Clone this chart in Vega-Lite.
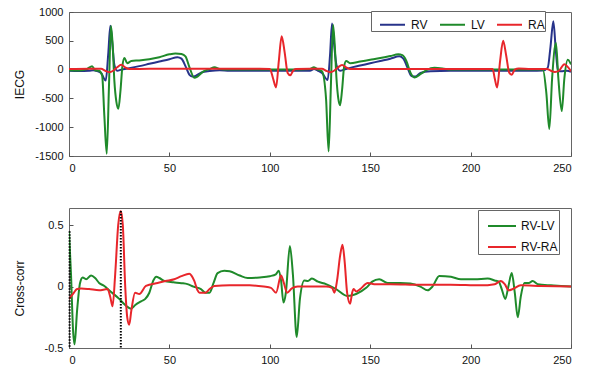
{
"$schema":"https://vega.github.io/schema/vega-lite/v6.json",
"padding":{"left":12,"top":5,"right":5,"bottom":5},
"background":"white",
"config":{
 "font":"Liberation Sans",
 "view":{"stroke":"#666","strokeWidth":1},
 "axis":{"domain":false,"grid":false,"labelFont":"Liberation Sans","labelFontSize":11,"labelColor":"#111","titleFont":"Liberation Sans","titleFontSize":12,"titleFontWeight":"normal","titleColor":"#111","tickColor":"#555","tickSize":-4,"labelPadding":10},
 "legend":{"labelFont":"Liberation Sans","labelFontSize":12,"labelColor":"#111","symbolType":"stroke","symbolStrokeWidth":2,"fillColor":"white","strokeColor":"#666","title":null},
 "concat":{"spacing":33}
},
"datasets":{
"ecg":[
{"s":"RV","t":0,"v":-20},{"s":"RV","t":5,"v":-25},{"s":"RV","t":10,"v":-20},{"s":"RV","t":12,"v":-10},{"s":"RV","t":14,"v":-25},{"s":"RV","t":16,"v":-60},{"s":"RV","t":18.3,"v":-190},{"s":"RV","t":19.5,"v":250},{"s":"RV","t":20.6,"v":760},{"s":"RV","t":21.6,"v":450},{"s":"RV","t":22.6,"v":80},{"s":"RV","t":24,"v":-20},{"s":"RV","t":26,"v":0},{"s":"RV","t":30,"v":25},{"s":"RV","t":35,"v":60},{"s":"RV","t":40,"v":100},{"s":"RV","t":45,"v":140},{"s":"RV","t":50,"v":180},{"s":"RV","t":54,"v":215},{"s":"RV","t":56,"v":190},{"s":"RV","t":58,"v":60},{"s":"RV","t":60,"v":-90},{"s":"RV","t":61.5,"v":-120},{"s":"RV","t":63,"v":-110},{"s":"RV","t":66,"v":-50},{"s":"RV","t":70,"v":-25},{"s":"RV","t":75,"v":-10},{"s":"RV","t":80,"v":-20},{"s":"RV","t":90,"v":-20},{"s":"RV","t":100,"v":-20},{"s":"RV","t":110,"v":-20},{"s":"RV","t":120,"v":-20},{"s":"RV","t":122,"v":10},{"s":"RV","t":124,"v":-20},{"s":"RV","t":126,"v":-60},{"s":"RV","t":128.8,"v":-180},{"s":"RV","t":130,"v":250},{"s":"RV","t":131,"v":800},{"s":"RV","t":132,"v":450},{"s":"RV","t":133.2,"v":80},{"s":"RV","t":135,"v":-20},{"s":"RV","t":137,"v":0},{"s":"RV","t":140,"v":30},{"s":"RV","t":145,"v":70},{"s":"RV","t":150,"v":110},{"s":"RV","t":155,"v":150},{"s":"RV","t":160,"v":190},{"s":"RV","t":164.5,"v":230},{"s":"RV","t":166.5,"v":190},{"s":"RV","t":168.5,"v":40},{"s":"RV","t":170.5,"v":-110},{"s":"RV","t":172.5,"v":-120},{"s":"RV","t":175,"v":-60},{"s":"RV","t":180,"v":-30},{"s":"RV","t":190,"v":-20},{"s":"RV","t":200,"v":-20},{"s":"RV","t":210,"v":-20},{"s":"RV","t":220,"v":-20},{"s":"RV","t":230,"v":-20},{"s":"RV","t":236,"v":-15},{"s":"RV","t":238.4,"v":30},{"s":"RV","t":239.8,"v":400},{"s":"RV","t":241.2,"v":840},{"s":"RV","t":242.4,"v":350},{"s":"RV","t":243.5,"v":-20},{"s":"RV","t":245,"v":-30},{"s":"RV","t":248,"v":-20},{"s":"RV","t":250,"v":-40},
{"s":"LV","t":0,"v":-10},{"s":"LV","t":5,"v":-15},{"s":"LV","t":9,"v":10},{"s":"LV","t":11.5,"v":60},{"s":"LV","t":13,"v":-10},{"s":"LV","t":15,"v":-20},{"s":"LV","t":16.5,"v":-100},{"s":"LV","t":17.6,"v":-800},{"s":"LV","t":18.8,"v":-1460},{"s":"LV","t":19.9,"v":-300},{"s":"LV","t":20.9,"v":755},{"s":"LV","t":21.7,"v":450},{"s":"LV","t":22.6,"v":-200},{"s":"LV","t":23.6,"v":-560},{"s":"LV","t":24.6,"v":-680},{"s":"LV","t":25.6,"v":-380},{"s":"LV","t":26.6,"v":60},{"s":"LV","t":27.6,"v":200},{"s":"LV","t":29,"v":110},{"s":"LV","t":31,"v":150},{"s":"LV","t":35,"v":160},{"s":"LV","t":40,"v":180},{"s":"LV","t":45,"v":215},{"s":"LV","t":50,"v":265},{"s":"LV","t":53,"v":280},{"s":"LV","t":56,"v":270},{"s":"LV","t":58,"v":230},{"s":"LV","t":60,"v":40},{"s":"LV","t":62.4,"v":-140},{"s":"LV","t":64,"v":-120},{"s":"LV","t":67,"v":-30},{"s":"LV","t":70,"v":10},{"s":"LV","t":72.5,"v":40},{"s":"LV","t":75,"v":10},{"s":"LV","t":80,"v":0},{"s":"LV","t":90,"v":0},{"s":"LV","t":100,"v":0},{"s":"LV","t":110,"v":0},{"s":"LV","t":120,"v":10},{"s":"LV","t":122,"v":40},{"s":"LV","t":124,"v":0},{"s":"LV","t":126,"v":-30},{"s":"LV","t":128,"v":-500},{"s":"LV","t":129.3,"v":-1420},{"s":"LV","t":130.4,"v":-300},{"s":"LV","t":131.5,"v":780},{"s":"LV","t":132.3,"v":450},{"s":"LV","t":133.2,"v":-150},{"s":"LV","t":134.1,"v":-500},{"s":"LV","t":135,"v":-620},{"s":"LV","t":136,"v":-350},{"s":"LV","t":137,"v":50},{"s":"LV","t":138,"v":150},{"s":"LV","t":140,"v":110},{"s":"LV","t":145,"v":140},{"s":"LV","t":150,"v":170},{"s":"LV","t":155,"v":200},{"s":"LV","t":160,"v":235},{"s":"LV","t":164,"v":265},{"s":"LV","t":166,"v":250},{"s":"LV","t":168,"v":150},{"s":"LV","t":170,"v":-50},{"s":"LV","t":172,"v":-135},{"s":"LV","t":175,"v":-80},{"s":"LV","t":178,"v":-10},{"s":"LV","t":182,"v":30},{"s":"LV","t":186,"v":20},{"s":"LV","t":190,"v":0},{"s":"LV","t":200,"v":0},{"s":"LV","t":210,"v":0},{"s":"LV","t":220,"v":0},{"s":"LV","t":230,"v":0},{"s":"LV","t":236,"v":0},{"s":"LV","t":237.7,"v":-400},{"s":"LV","t":239.2,"v":-1030},{"s":"LV","t":240.6,"v":-150},{"s":"LV","t":242.5,"v":460},{"s":"LV","t":243.7,"v":-150},{"s":"LV","t":245.4,"v":-720},{"s":"LV","t":246.7,"v":-150},{"s":"LV","t":248.4,"v":170},{"s":"LV","t":250,"v":90},
{"s":"RA","t":0,"v":10},{"s":"RA","t":10,"v":15},{"s":"RA","t":16,"v":15},{"s":"RA","t":18,"v":-20},{"s":"RA","t":20,"v":-45},{"s":"RA","t":22,"v":-20},{"s":"RA","t":24,"v":40},{"s":"RA","t":26,"v":85},{"s":"RA","t":28,"v":40},{"s":"RA","t":30,"v":10},{"s":"RA","t":40,"v":15},{"s":"RA","t":60,"v":15},{"s":"RA","t":80,"v":15},{"s":"RA","t":95,"v":15},{"s":"RA","t":100,"v":10},{"s":"RA","t":101.6,"v":-150},{"s":"RA","t":103.1,"v":-310},{"s":"RA","t":104.5,"v":150},{"s":"RA","t":105.9,"v":580},{"s":"RA","t":107.4,"v":300},{"s":"RA","t":108.9,"v":-60},{"s":"RA","t":110.2,"v":-100},{"s":"RA","t":111.6,"v":-20},{"s":"RA","t":113,"v":10},{"s":"RA","t":120,"v":15},{"s":"RA","t":126,"v":15},{"s":"RA","t":128,"v":-20},{"s":"RA","t":130,"v":-45},{"s":"RA","t":132,"v":-20},{"s":"RA","t":134,"v":40},{"s":"RA","t":136,"v":80},{"s":"RA","t":138,"v":40},{"s":"RA","t":140,"v":10},{"s":"RA","t":150,"v":12},{"s":"RA","t":170,"v":12},{"s":"RA","t":190,"v":12},{"s":"RA","t":211,"v":10},{"s":"RA","t":212,"v":-150},{"s":"RA","t":213.2,"v":-310},{"s":"RA","t":214.7,"v":150},{"s":"RA","t":216.2,"v":500},{"s":"RA","t":217.7,"v":250},{"s":"RA","t":219.2,"v":-50},{"s":"RA","t":220.5,"v":-90},{"s":"RA","t":222,"v":0},{"s":"RA","t":224,"v":20},{"s":"RA","t":230,"v":10},{"s":"RA","t":238,"v":10},{"s":"RA","t":240,"v":-20},{"s":"RA","t":242,"v":-40},{"s":"RA","t":244,"v":-20},{"s":"RA","t":246.7,"v":95},{"s":"RA","t":248,"v":60},{"s":"RA","t":250,"v":-30}
],
"xc":[
{"s":"RV-LV","t":0,"v":0.45},{"s":"RV-LV","t":1,"v":0.1},{"s":"RV-LV","t":2,"v":-0.35},{"s":"RV-LV","t":2.8,"v":-0.47},{"s":"RV-LV","t":4,"v":-0.2},{"s":"RV-LV","t":5.5,"v":0.03},{"s":"RV-LV","t":6.8,"v":0.075},{"s":"RV-LV","t":8.5,"v":0.06},{"s":"RV-LV","t":11,"v":0.09},{"s":"RV-LV","t":13,"v":0.07},{"s":"RV-LV","t":15,"v":0.03},{"s":"RV-LV","t":17.6,"v":0.005},{"s":"RV-LV","t":20,"v":-0.03},{"s":"RV-LV","t":25,"v":-0.1},{"s":"RV-LV","t":28,"v":-0.15},{"s":"RV-LV","t":30.9,"v":-0.18},{"s":"RV-LV","t":33,"v":-0.15},{"s":"RV-LV","t":35.9,"v":-0.12},{"s":"RV-LV","t":38,"v":-0.1},{"s":"RV-LV","t":40,"v":-0.05},{"s":"RV-LV","t":42,"v":0.05},{"s":"RV-LV","t":43.5,"v":0.08},{"s":"RV-LV","t":45,"v":0.07},{"s":"RV-LV","t":47.5,"v":0.045},{"s":"RV-LV","t":52,"v":0.035},{"s":"RV-LV","t":56,"v":0.028},{"s":"RV-LV","t":59,"v":0.02},{"s":"RV-LV","t":62,"v":0},{"s":"RV-LV","t":65.7,"v":-0.02},{"s":"RV-LV","t":68,"v":-0.05},{"s":"RV-LV","t":70,"v":-0.05},{"s":"RV-LV","t":72,"v":0.03},{"s":"RV-LV","t":74,"v":0.11},{"s":"RV-LV","t":77.3,"v":0.13},{"s":"RV-LV","t":80,"v":0.125},{"s":"RV-LV","t":85,"v":0.09},{"s":"RV-LV","t":89,"v":0.07},{"s":"RV-LV","t":95,"v":0.075},{"s":"RV-LV","t":100,"v":0.085},{"s":"RV-LV","t":103,"v":0.1},{"s":"RV-LV","t":104.5,"v":0.13},{"s":"RV-LV","t":105.6,"v":0.05},{"s":"RV-LV","t":106.8,"v":-0.13},{"s":"RV-LV","t":108,"v":-0.05},{"s":"RV-LV","t":110,"v":0.33},{"s":"RV-LV","t":111.5,"v":0.1},{"s":"RV-LV","t":113.4,"v":-0.41},{"s":"RV-LV","t":115,"v":-0.1},{"s":"RV-LV","t":117.2,"v":0.05},{"s":"RV-LV","t":119,"v":0.045},{"s":"RV-LV","t":121,"v":0.065},{"s":"RV-LV","t":124,"v":0.04},{"s":"RV-LV","t":128,"v":0.02},{"s":"RV-LV","t":133,"v":-0.02},{"s":"RV-LV","t":138.5,"v":-0.076},{"s":"RV-LV","t":143,"v":-0.06},{"s":"RV-LV","t":148,"v":-0.01},{"s":"RV-LV","t":151,"v":0.04},{"s":"RV-LV","t":154.5,"v":0.06},{"s":"RV-LV","t":158.7,"v":0.03},{"s":"RV-LV","t":165,"v":0.03},{"s":"RV-LV","t":170,"v":0.025},{"s":"RV-LV","t":175,"v":0},{"s":"RV-LV","t":178.6,"v":-0.03},{"s":"RV-LV","t":181,"v":0},{"s":"RV-LV","t":184.4,"v":0.087},{"s":"RV-LV","t":190.2,"v":0.08},{"s":"RV-LV","t":195.2,"v":0.06},{"s":"RV-LV","t":202,"v":0.06},{"s":"RV-LV","t":208.5,"v":0.065},{"s":"RV-LV","t":212,"v":0.05},{"s":"RV-LV","t":214,"v":0.04},{"s":"RV-LV","t":215.5,"v":-0.02},{"s":"RV-LV","t":217.3,"v":-0.1},{"s":"RV-LV","t":218.8,"v":0},{"s":"RV-LV","t":220.5,"v":0.11},{"s":"RV-LV","t":222,"v":-0.05},{"s":"RV-LV","t":223.5,"v":-0.25},{"s":"RV-LV","t":225,"v":-0.08},{"s":"RV-LV","t":226.8,"v":0.03},{"s":"RV-LV","t":229,"v":0.03},{"s":"RV-LV","t":230.9,"v":0.046},{"s":"RV-LV","t":233.4,"v":0.02},{"s":"RV-LV","t":240,"v":0.01},{"s":"RV-LV","t":245,"v":0.005},{"s":"RV-LV","t":250,"v":0},
{"s":"RV-RA","t":0,"v":-0.1},{"s":"RV-RA","t":2,"v":-0.06},{"s":"RV-RA","t":4,"v":-0.02},{"s":"RV-RA","t":6,"v":-0.015},{"s":"RV-RA","t":10,"v":-0.02},{"s":"RV-RA","t":15,"v":-0.03},{"s":"RV-RA","t":19.2,"v":-0.02},{"s":"RV-RA","t":20.5,"v":-0.08},{"s":"RV-RA","t":21.7,"v":-0.16},{"s":"RV-RA","t":23,"v":0.1},{"s":"RV-RA","t":24.5,"v":0.5},{"s":"RV-RA","t":25.8,"v":0.615},{"s":"RV-RA","t":26.8,"v":0.5},{"s":"RV-RA","t":28,"v":0},{"s":"RV-RA","t":29,"v":-0.25},{"s":"RV-RA","t":30,"v":-0.31},{"s":"RV-RA","t":31,"v":-0.2},{"s":"RV-RA","t":32.9,"v":-0.05},{"s":"RV-RA","t":35,"v":-0.06},{"s":"RV-RA","t":38.3,"v":0.005},{"s":"RV-RA","t":44.2,"v":0.03},{"s":"RV-RA","t":48,"v":0.045},{"s":"RV-RA","t":52.4,"v":0.06},{"s":"RV-RA","t":56,"v":0.085},{"s":"RV-RA","t":59.9,"v":0.105},{"s":"RV-RA","t":61,"v":0.09},{"s":"RV-RA","t":62.4,"v":0.046},{"s":"RV-RA","t":64,"v":-0.03},{"s":"RV-RA","t":65,"v":-0.05},{"s":"RV-RA","t":68,"v":-0.05},{"s":"RV-RA","t":70,"v":-0.02},{"s":"RV-RA","t":72.4,"v":0.005},{"s":"RV-RA","t":80,"v":0.01},{"s":"RV-RA","t":90,"v":0.01},{"s":"RV-RA","t":97,"v":0},{"s":"RV-RA","t":100.6,"v":-0.01},{"s":"RV-RA","t":103.1,"v":-0.05},{"s":"RV-RA","t":105.6,"v":0.09},{"s":"RV-RA","t":107,"v":0.03},{"s":"RV-RA","t":108.6,"v":-0.05},{"s":"RV-RA","t":111,"v":-0.015},{"s":"RV-RA","t":113.9,"v":0},{"s":"RV-RA","t":120,"v":0},{"s":"RV-RA","t":128,"v":0},{"s":"RV-RA","t":131,"v":-0.01},{"s":"RV-RA","t":132.2,"v":-0.05},{"s":"RV-RA","t":133.5,"v":0.05},{"s":"RV-RA","t":135,"v":0.25},{"s":"RV-RA","t":136.2,"v":0.34},{"s":"RV-RA","t":137.3,"v":0.2},{"s":"RV-RA","t":138.5,"v":-0.05},{"s":"RV-RA","t":140,"v":-0.14},{"s":"RV-RA","t":141,"v":-0.05},{"s":"RV-RA","t":141.8,"v":-0.02},{"s":"RV-RA","t":143,"v":-0.04},{"s":"RV-RA","t":145,"v":-0.02},{"s":"RV-RA","t":148.8,"v":0.03},{"s":"RV-RA","t":152,"v":0.02},{"s":"RV-RA","t":160,"v":0.02},{"s":"RV-RA","t":175,"v":0.015},{"s":"RV-RA","t":190,"v":0.015},{"s":"RV-RA","t":205,"v":0.01},{"s":"RV-RA","t":212,"v":0.02},{"s":"RV-RA","t":215,"v":0.045},{"s":"RV-RA","t":217,"v":0.02},{"s":"RV-RA","t":219,"v":-0.03},{"s":"RV-RA","t":221,"v":-0.02},{"s":"RV-RA","t":225,"v":0.01},{"s":"RV-RA","t":235,"v":0.005},{"s":"RV-RA","t":250,"v":0}
],
"peaks":[{"t":0.3,"v":0.45},{"t":25.8,"v":0.615}]
},
"vconcat":[
{"width":502,"height":144,
 "layer":[
 {"data":{"name":"ecg"},
  "mark":{"type":"line","strokeWidth":2,"interpolate":"monotone","clip":true},
  "encoding":{
   "x":{"field":"t","type":"quantitative","scale":{"domain":[0,250],"nice":false},"axis":{"values":[0,50,100,150,200,250],"title":null,"labelExpr":"datum.value + ''"}},
   "y":{"field":"v","type":"quantitative","scale":{"domain":[-1500,1000],"nice":false},"axis":{"values":[-1500,-1000,-500,0,500,1000],"title":"IECG","labelExpr":"datum.value + ''","titleX":-50,"titleY":72,"titleBaseline":"middle","titleAngle":-90,"titleAlign":"center"}},
   "color":{"field":"s","type":"nominal","sort":["RV","LV","RA"],"scale":{"domain":["RV","LV","RA"],"range":["#27338a","#1f8a2a","#e8262b"]},
     "legend":{"orient":"none","legendX":302,"legendY":-1,"direction":"horizontal","symbolSize":625,"symbolOffset":8,"labelOffset":5,"columnPadding":3,"padding":0}}
  }}
 ]},
{"width":502,"height":140,
 "layer":[
 {"data":{"name":"xc"},
  "mark":{"type":"line","strokeWidth":2,"interpolate":"monotone","clip":true},
  "encoding":{
   "x":{"field":"t","type":"quantitative","scale":{"domain":[0,250],"nice":false},"axis":{"values":[0,50,100,150,200,250],"title":null,"labelExpr":"datum.value + ''"}},
   "y":{"field":"v","type":"quantitative","scale":{"domain":[-0.5,0.64],"nice":false},"axis":{"values":[-0.5,0,0.5],"title":"Cross-corr","labelExpr":"datum.value + ''","titleX":-50,"titleY":80,"titleBaseline":"middle","titleAngle":-90,"titleAlign":"center"}},
   "color":{"field":"s","type":"nominal","scale":{"domain":["RV-LV","RV-RA"],"range":["#1f8a2a","#e8262b"]},
     "legend":{"orient":"none","legendX":409,"legendY":2,"direction":"vertical","symbolSize":784,"symbolOffset":8,"labelOffset":4,"padding":1,"rowPadding":-10}}
  }},
 {"data":{"name":"peaks"},
  "mark":{"type":"rule","color":"#000","strokeWidth":2,"strokeDash":[1.5,1.5]},
  "encoding":{"x":{"field":"t","type":"quantitative"},"y":{"field":"v","type":"quantitative"},"y2":{"datum":-0.5}}}
 ]}
],
"resolve":{"scale":{"color":"independent"},"legend":{"color":"independent"}}
}
